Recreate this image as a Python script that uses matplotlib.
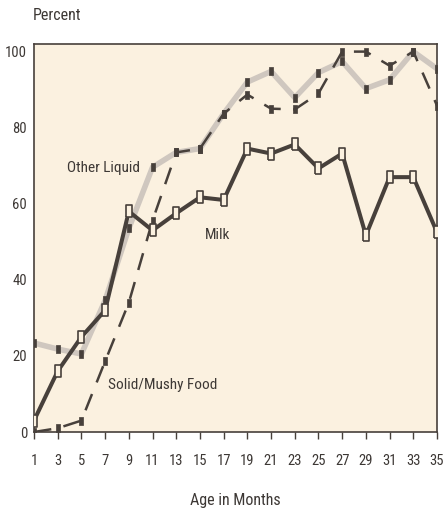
import matplotlib
matplotlib.use("Agg")
import matplotlib.pyplot as plt
from matplotlib import font_manager as fm

# Share of children receiving each type of feeding, by age
months = [1, 3, 5, 7, 9, 11, 13, 15, 17, 19, 21, 23, 25, 27, 29, 31, 33, 35]
milk = [3, 16, 25, 32, 58, 53, 57.5, 61.7, 61, 74.5, 73.2, 75.6, 69.3, 73.2, 51.7, 67, 67, 52.5]
other_liquid = [23.4, 21.8, 20.5, 34.6, 53.5, 69.6, 73.5, 74.5, 83.7, 92, 94.8, 87.9, 94.5, 97.4, 90.3, 92.6, 100, 95.5]
solid_food = [0, 1, 3, 18.6, 34, 55.6, 73.5, 74.5, 83.7, 88.7, 85, 84.8, 89, 100, 100, 96.3, 100, 85.8]
x_ticks = months
y_ticks = [0, 20, 40, 60, 80, 100]


def narrow_font():
    """Pick a regular-weight condensed sans face if one is installed."""
    faces = fm.fontManager.ttflist
    wanted = ['Liberation Sans Narrow', 'Roboto Condensed', 'DejaVu Sans Condensed',
              'Open Sans Condensed', 'Noto Sans Condensed']
    for name in wanted:
        for f in faces:
            if f.name == name and f.style == 'normal' and f.weight in (400, 'normal', 'regular'):
                return fm.FontProperties(fname=f.fname)
    for f in faces:
        if (f.stretch in ('condensed', 'semi-condensed') or 'Narrow' in f.fname
                or 'Condensed' in f.fname) and f.style == 'normal' \
                and f.weight in (400, 'normal', 'regular') and 'Mono' not in f.fname \
                and 'Serif' not in f.fname:
            return fm.FontProperties(fname=f.fname)
    return fm.FontProperties(family='Liberation Sans')


base_font = narrow_font()


def font(size):
    fp = base_font.copy()
    fp.set_size(size)
    return fp


ink = '#47403b'
text_color = '#3d3835'
panel = '#fbf1e0'

fig = plt.figure(figsize=(4.46, 5.08), dpi=100)
fig.patch.set_facecolor('white')
ax = fig.add_axes([34 / 446, 1 - 432 / 508, (437 - 34) / 446, (432 - 44) / 508])
ax.set_facecolor(panel)

tall_box = [(-0.6, -1), (0.6, -1), (0.6, 1), (-0.6, 1), (-0.6, -1)]

ax.plot(months, other_liquid, color='#cfc7bf', lw=4.0, solid_joinstyle='miter', zorder=2)
ax.plot(months, other_liquid, ls='none', marker=tall_box, ms=5.2, mfc=ink, mec=ink, mew=0.5, zorder=3)

ax.plot(months, solid_food, color=ink, lw=1.8, dashes=(7, 5), zorder=4)
ax.plot(months, solid_food, ls='none', marker=tall_box, ms=5.2, mfc=ink, mec=ink, mew=0.5, zorder=4)

ax.plot(months, milk, color=ink, lw=2.9, zorder=5)
ax.plot(months, milk, ls='none', marker=tall_box, ms=8.2, mfc=panel, mec=ink, mew=1.2, zorder=6)

ax.set_xlim(1, 35)
ax.set_ylim(0, 102)
ax.set_xticks(x_ticks)
ax.set_xticklabels([str(m) for m in x_ticks], fontproperties=font(10.5))
ax.set_yticks(y_ticks)
ax.set_yticklabels([str(v) for v in y_ticks], fontproperties=font(10.5))
ax.tick_params(axis='x', direction='out', length=5, width=1, color=ink,
               labelcolor=text_color, pad=11)
ax.tick_params(axis='y', length=0, labelcolor=text_color, pad=5)
for side in ax.spines.values():
    side.set_color(ink)
    side.set_linewidth(1.2)

ax.set_xlabel('Age in Months', fontproperties=font(11.5), color=text_color, labelpad=18)
fig.text(33 / 446, 1 - 16 / 508, 'Percent', fontproperties=font(11.5), color=text_color,
         ha='left', va='center')

ax.text(6.9, 69.5, 'Other Liquid', fontproperties=font(11), color=text_color, ha='center', va='center')
ax.text(16.5, 51.7, 'Milk', fontproperties=font(11), color=text_color, ha='center', va='center')
ax.text(11.85, 12.3, 'Solid/Mushy Food', fontproperties=font(11), color=text_color, ha='center', va='center')

fig.savefig('out.png', dpi=100, facecolor=fig.get_facecolor())
